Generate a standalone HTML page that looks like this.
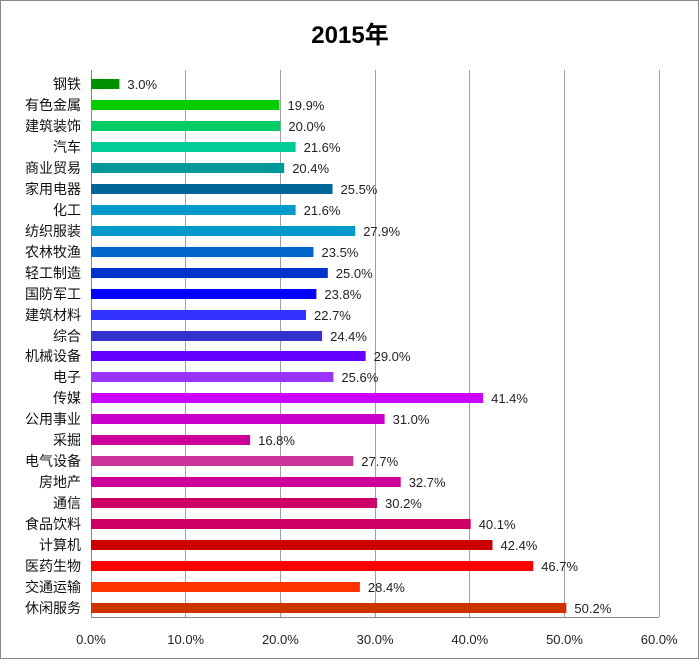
<!DOCTYPE html><html><head><meta charset="utf-8"><style>body{margin:0;background:#fff}</style></head><body>
<svg width="700" height="661" xmlns="http://www.w3.org/2000/svg" font-family="Liberation Sans, Noto Sans CJK SC, sans-serif">
<rect x="0.5" y="0.5" width="698" height="658" fill="#fff" stroke="#888"/>
<text x="350" y="43" text-anchor="middle" font-size="24" font-weight="bold" fill="#000">2015年</text>
<g stroke="#a0a0a0" stroke-width="1">
<line x1="185.5" y1="70" x2="185.5" y2="617"/><line x1="280.5" y1="70" x2="280.5" y2="617"/><line x1="375.5" y1="70" x2="375.5" y2="617"/><line x1="469.5" y1="70" x2="469.5" y2="617"/><line x1="564.5" y1="70" x2="564.5" y2="617"/><line x1="659.5" y1="70" x2="659.5" y2="617"/>
</g>
<line x1="91.5" y1="70" x2="91.5" y2="617" stroke="#888"/>
<line x1="91" y1="617.5" x2="659" y2="617.5" stroke="#888"/>
<g font-size="13" fill="#222" text-anchor="middle">
<text x="91" y="644">0.0%</text><text x="185.7" y="644">10.0%</text><text x="280.4" y="644">20.0%</text><text x="375.1" y="644">30.0%</text><text x="469.8" y="644">40.0%</text><text x="564.5" y="644">50.0%</text><text x="659.2" y="644">60.0%</text>
</g>
<g font-size="14" fill="#111" text-anchor="end">
<text x="81" y="89">钢铁</text><text x="81" y="110">有色金属</text><text x="81" y="131">建筑装饰</text><text x="81" y="152">汽车</text><text x="81" y="173">商业贸易</text><text x="81" y="194">家用电器</text><text x="81" y="215">化工</text><text x="81" y="236">纺织服装</text><text x="81" y="257">农林牧渔</text><text x="81" y="278">轻工制造</text><text x="81" y="299">国防军工</text><text x="81" y="320">建筑材料</text><text x="81" y="341">综合</text><text x="81" y="361">机械设备</text><text x="81" y="382">电子</text><text x="81" y="403">传媒</text><text x="81" y="424">公用事业</text><text x="81" y="445">采掘</text><text x="81" y="466">电气设备</text><text x="81" y="487">房地产</text><text x="81" y="508">通信</text><text x="81" y="529">食品饮料</text><text x="81" y="550">计算机</text><text x="81" y="571">医药生物</text><text x="81" y="592">交通运输</text><text x="81" y="613">休闲服务</text>
</g>
<g>
<rect x="91" y="79" width="28.4" height="10" fill="#009000"/>
<rect x="91" y="100" width="188.5" height="10" fill="#00cc00"/>
<rect x="91" y="121" width="189.4" height="10" fill="#00cc66"/>
<rect x="91" y="142" width="204.6" height="10" fill="#00cc99"/>
<rect x="91" y="163" width="193.2" height="10" fill="#009999"/>
<rect x="91" y="184" width="241.5" height="10" fill="#006699"/>
<rect x="91" y="205" width="204.6" height="10" fill="#0099cc"/>
<rect x="91" y="226" width="264.2" height="10" fill="#0099cc"/>
<rect x="91" y="247" width="222.5" height="10" fill="#0066cc"/>
<rect x="91" y="268" width="236.8" height="10" fill="#0033cc"/>
<rect x="91" y="289" width="225.4" height="10" fill="#0000ff"/>
<rect x="91" y="310" width="215.0" height="10" fill="#3333ff"/>
<rect x="91" y="331" width="231.1" height="10" fill="#3333cc"/>
<rect x="91" y="351" width="274.6" height="10" fill="#6600ff"/>
<rect x="91" y="372" width="242.4" height="10" fill="#9933ff"/>
<rect x="91" y="393" width="392.1" height="10" fill="#cc00ff"/>
<rect x="91" y="414" width="293.6" height="10" fill="#cc00cc"/>
<rect x="91" y="435" width="159.1" height="10" fill="#cc0099"/>
<rect x="91" y="456" width="262.3" height="10" fill="#cc3399"/>
<rect x="91" y="477" width="309.7" height="10" fill="#cc0099"/>
<rect x="91" y="498" width="286.0" height="10" fill="#cc0066"/>
<rect x="91" y="519" width="379.7" height="10" fill="#cc0066"/>
<rect x="91" y="540" width="401.5" height="10" fill="#cc0000"/>
<rect x="91" y="561" width="442.2" height="10" fill="#ff0000"/>
<rect x="91" y="582" width="268.9" height="10" fill="#ff3300"/>
<rect x="91" y="603" width="475.4" height="10" fill="#cc3300"/>
</g>
<g font-size="13" fill="#222">
<text x="127.4" y="89">3.0%</text>
<text x="287.5" y="110">19.9%</text>
<text x="288.4" y="131">20.0%</text>
<text x="303.6" y="152">21.6%</text>
<text x="292.2" y="173">20.4%</text>
<text x="340.5" y="194">25.5%</text>
<text x="303.6" y="215">21.6%</text>
<text x="363.2" y="236">27.9%</text>
<text x="321.5" y="257">23.5%</text>
<text x="335.8" y="278">25.0%</text>
<text x="324.4" y="299">23.8%</text>
<text x="314.0" y="320">22.7%</text>
<text x="330.1" y="341">24.4%</text>
<text x="373.6" y="361">29.0%</text>
<text x="341.4" y="382">25.6%</text>
<text x="491.1" y="403">41.4%</text>
<text x="392.6" y="424">31.0%</text>
<text x="258.1" y="445">16.8%</text>
<text x="361.3" y="466">27.7%</text>
<text x="408.7" y="487">32.7%</text>
<text x="385.0" y="508">30.2%</text>
<text x="478.7" y="529">40.1%</text>
<text x="500.5" y="550">42.4%</text>
<text x="541.2" y="571">46.7%</text>
<text x="367.9" y="592">28.4%</text>
<text x="574.4" y="613">50.2%</text>
</g>
</svg></body></html>
